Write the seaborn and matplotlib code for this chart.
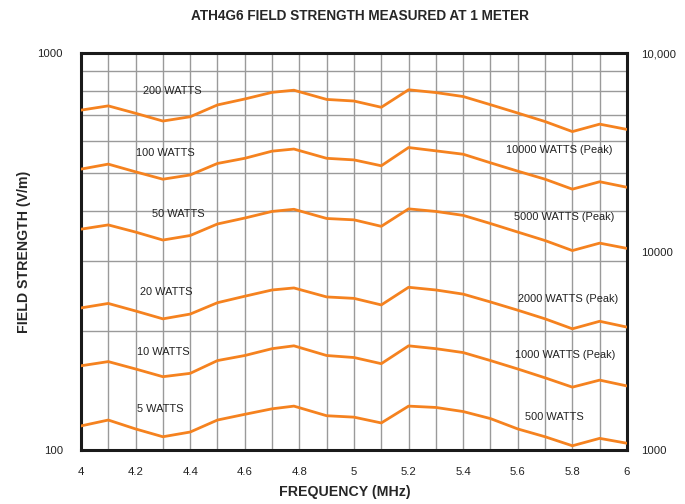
import numpy as np
import pandas as pd
import matplotlib
matplotlib.use('Agg')
import matplotlib.pyplot as plt
import seaborn as sns
from matplotlib import font_manager

# 数据
freq = [4.0, 4.1, 4.2, 4.3, 4.4, 4.5, 4.6, 4.7, 4.78, 4.9, 5.0,
        5.1, 5.2, 5.3, 5.4, 5.5, 5.6, 5.7, 5.8, 5.9, 6.0]
w200 = [718, 736, 705, 674, 691, 740, 766, 796, 806, 764, 757,
        730, 808, 795, 777, 741, 706, 672, 634, 662, 642]
w100 = [510, 525, 502, 481, 493, 527, 543, 566, 573, 543, 538,
        520, 578, 567, 556, 529, 504, 481, 454, 474, 459]
w50 = [360, 369, 354, 338, 347, 371, 384, 399, 404, 383, 380,
       366, 405, 399, 390, 372, 354, 337, 318, 332, 322]
w20 = [228, 234, 224, 214, 220, 235, 244, 253, 256, 243, 241,
       232, 257, 253, 247, 236, 225, 214, 202, 211, 204]
w10 = [163, 167, 160, 153, 156, 168, 173, 180, 183, 173, 171,
       165, 183, 180, 176, 168, 160, 152, 144, 150, 145]
w5 = [115, 119, 113, 108, 111, 119, 123, 127, 129, 122, 121,
      117, 129, 128, 125, 120, 113, 108, 102.5, 107, 104]

series = {'200': w200, '100': w100, '50': w50, '20': w20, '10': w10, '5': w5}
left_labels = ['200 WATTS', '100 WATTS', '50 WATTS', '20 WATTS', '10 WATTS', '5 WATTS']
right_labels = ['10000 WATTS (Peak)', '5000 WATTS (Peak)', '2000 WATTS (Peak)',
                '1000 WATTS (Peak)', '500 WATTS']
x_ticks = [4.0, 4.2, 4.4, 4.6, 4.8, 5.0, 5.2, 5.4, 5.6, 5.8, 6.0]
x_ticklabels = ['4', '4.2', '4.4', '4.6', '4.8', '5', '5.2', '5.4', '5.6', '5.8', '6']

# 标注位置
left_pos = [(4.333, 802), (4.308, 559), (4.355, 393), (4.314, 250), (4.30, 177), (4.29, 127)]
right_pos = [(5.752, 570), (5.77, 387), (5.783, 240), (5.775, 174), (5.734, 121)]

sns.set_style('white')
available = {f.name for f in font_manager.fontManager.ttflist}
base_font = 'Liberation Sans Narrow' if 'Liberation Sans Narrow' in available else 'Liberation Sans'
plt.rcParams['font.family'] = [base_font, 'DejaVu Sans']

orange = '#F5821F'
df = pd.concat([pd.DataFrame({'freq': freq, 'field': v, 'power': k}) for k, v in series.items()])

fig = plt.figure(figsize=(6.85, 5.04), dpi=100)
ax = fig.add_axes([0.1182, 0.1071, 0.7971, 0.7877])
sns.lineplot(data=df, x='freq', y='field', hue='power', palette=[orange] * 6,
             legend=False, lw=2.0, ax=ax, sort=False, zorder=3)
for ln in ax.get_lines():
    ln.set_solid_joinstyle('round')

ax.set_yscale('log')
ax.set_xlim(4, 6)
ax.set_ylim(100, 1000)
ax.set_xticks(x_ticks)
ax.set_xticklabels(x_ticklabels)
ax.set_xticks(np.arange(4.1, 6.0, 0.2), minor=True)
ax.set_yticks([100, 1000])
ax.set_yticklabels(['100', '1000'])
ax.set_yticks([200, 300, 400, 500, 600, 700, 800, 900], minor=True)
ax.yaxis.set_minor_formatter(matplotlib.ticker.NullFormatter())
ax.grid(True, which='both', color='#9a9a9a', lw=1.0, zorder=0)
ax.tick_params(which='both', length=0, labelsize=8.2, colors='#222')
ax.tick_params(axis='x', pad=12)
ax.tick_params(axis='y', pad=13)
for s in ax.spines.values():
    s.set_visible(True)
    s.set_color('#1a1a1a')
    s.set_linewidth(2.2)

ax2 = ax.twinx()
ax2.set_yscale('log')
ax2.set_ylim(1000, 10000)
ax2.set_yticks([1000, np.sqrt(1000 * 10000), 10000])
ax2.set_yticklabels(['1000', '10000', '10,000'])
ax2.yaxis.set_minor_locator(matplotlib.ticker.NullLocator())
ax2.tick_params(length=0, labelsize=8.2, colors='#222', pad=10)
for s in ax2.spines.values():
    s.set_visible(False)

for t, (x, y) in zip(left_labels, left_pos):
    ax.text(x, y, t, ha='center', va='center', fontsize=7.9, color='#222', zorder=4)
for t, (x, y) in zip(right_labels, right_pos):
    ax.text(x, y, t, ha='center', va='center', fontsize=7.9, color='#222', zorder=4)

ax.set_xlabel('FREQUENCY (MHz)', fontsize=10.2, fontweight='bold')
ax.xaxis.set_label_coords(0.4835, -0.087)
ax.set_ylabel('FIELD STRENGTH (V/m)', fontsize=10.2, fontweight='bold')
ax.yaxis.set_label_coords(-0.091, 0.5)
fig.text(0.526, 0.968, 'ATH4G6 FIELD STRENGTH MEASURED AT 1 METER',
         ha='center', va='center', fontsize=9.8, fontweight='bold')

fig.savefig('out.png', dpi=100)
